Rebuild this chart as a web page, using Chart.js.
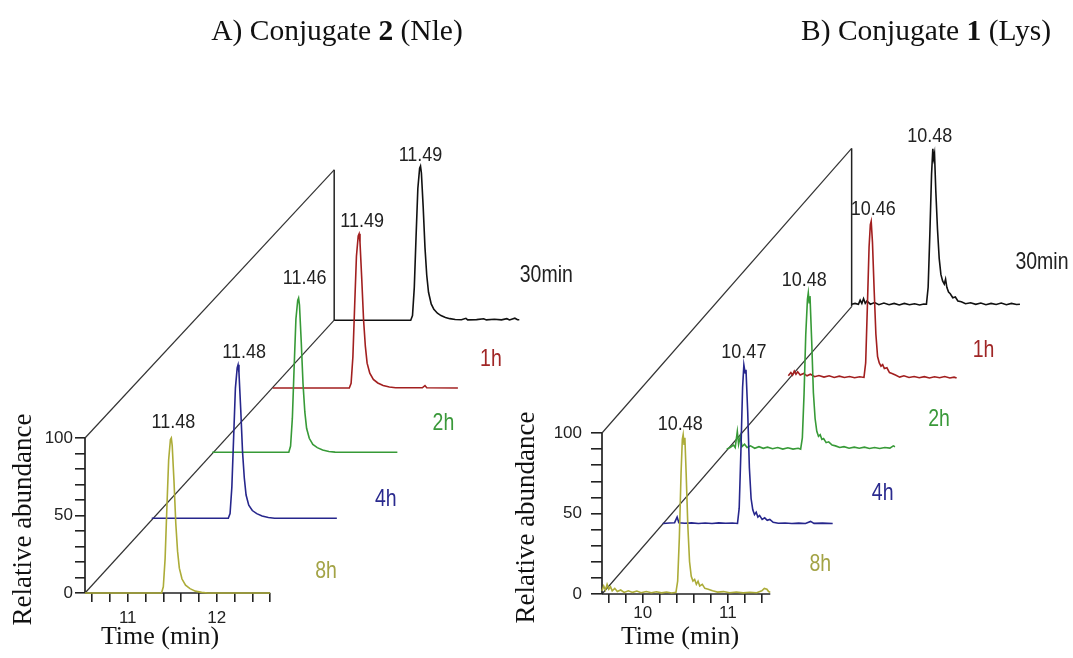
<!DOCTYPE html>
<html>
<head>
<meta charset="utf-8">
<script src="https://cdn.jsdelivr.net/npm/chart.js@4.4.1/dist/chart.umd.min.js"></script>
<style>
  body { margin: 0; background: #fff; }
  #wrap { position: relative; width: 1073px; height: 658px; overflow: hidden; background: #fff; }
  canvas { position: absolute; top: 0; }
  .title { position: absolute; top: 13px; line-height: 34px; font-family: "Liberation Serif", "Times New Roman", serif;
           font-size: 29.5px; color: #111; white-space: nowrap; transform: translateX(-50%); }
</style>
</head>
<body>
<div id="wrap">
  <canvas id="chartA" width="600" height="658" style="left:0"></canvas>
  <canvas id="chartB" width="573" height="658" style="left:500px"></canvas>
  <div class="title" style="left:337px">A) Conjugate <b>2</b> (Nle)</div>
  <div class="title" style="left:926px">B) Conjugate <b>1</b> (Lys)</div>
</div>
<script>
// sampling times, front to back
const seriesNames = ['8h', '4h', '2h', '1h', '30min'];
const peakLabelsA = ['11.48', '11.48', '11.46', '11.49', '11.49'];
const peakLabelsB = ['10.48', '10.47', '10.48', '10.46', '10.48'];

// how far each run is pushed back in the stack (min, abundance)
const shiftTimeA = [0, 0.75, 1.43, 2.11, 2.80];
const shiftAbundA = [0, 48.2, 90.8, 132.3, 176];
const shiftTimeB = [0, 0.714, 1.467, 2.192, 2.937];
const shiftAbundB = [0, 43.3, 89.0, 133.5, 178.5];

const xTicksA = [10.6, 10.8, 11, 11.2, 11.4, 11.6, 11.8, 12, 12.2, 12.4, 12.6];
const xTicksB = [9.6, 9.8, 10, 10.2, 10.4, 10.6, 10.8, 11, 11.2, 11.4];
const xLabelsA = [11, 12];
const xLabelsB = [10, 11];
const yTicks = [0, 10, 20, 30, 40, 50, 60, 70, 80, 90, 100];
const yLabels = [0, 50, 100];

// conjugate 2 (Nle) traces: [time, relative abundance]
const a8h = [[10.52,0],[11.38,0],[11.40,4],[11.42,22],[11.44,55],[11.46,86],[11.48,99],[11.49,100],[11.50,95],[11.52,72],
  [11.54,45],[11.56,27],[11.58,16],[11.61,9],[11.65,5],[11.70,2.8],[11.76,1.2],[11.83,0.4],[11.90,0],[12.60,0]];
const a4h = [[10.52,0],[11.38,0],[11.40,3],[11.42,20],[11.44,52],[11.46,84],[11.48,97],[11.49,99],[11.50,94],[11.52,70],
  [11.54,43],[11.56,26],[11.58,15],[11.61,8.5],[11.65,5],[11.70,3],[11.76,1.5],[11.83,0.5],[11.90,0],[12.60,0]];
const a2h = [[10.52,0],[11.38,0],[11.40,4],[11.42,22],[11.44,55],[11.46,86],[11.48,98],[11.49,99.5],[11.50,95],[11.52,71],
  [11.54,44],[11.56,26],[11.58,15.5],[11.61,9],[11.65,5],[11.70,3],[11.76,1.5],[11.83,0.5],[11.90,0.1],[12.60,0]];
const a1h = [[10.52,0],[11.38,0],[11.40,3],[11.42,20],[11.44,53],[11.46,85],[11.48,98],[11.49,99.4],[11.50,94],[11.52,70],
  [11.54,44],[11.56,27],[11.58,16],[11.61,9.5],[11.65,5.5],[11.70,3.2],[11.76,1.6],[11.83,0.6],[11.90,0.1],[12.20,0.1],
  [12.23,1.5],[12.25,0.1],[12.60,0]];
const a30m = [[10.52,0],[11.38,0],[11.40,3],[11.42,21],[11.44,54],[11.46,85],[11.48,98],[11.49,99.4],[11.50,95],[11.52,73],
  [11.54,47],[11.56,29],[11.58,18],[11.61,10.5],[11.64,7],[11.68,4.5],[11.72,3],[11.77,1.8],[11.82,1],[11.88,0.5],
  [11.95,0.3],[12.00,1.2],[12.02,0.2],[12.12,0.4],[12.20,0.9],[12.23,0.2],[12.32,0.6],[12.40,0.2],[12.46,1],[12.49,0.2],
  [12.55,1.3],[12.58,0.3],[12.60,0.3]];

// conjugate 1 (Lys) traces
const b8h = [[9.52,2],[9.54,5],[9.56,2.5],[9.58,6],[9.60,3],[9.62,4.5],[9.64,2],[9.67,3.5],[9.70,1.5],[9.74,2.5],[9.78,1],
  [9.83,2],[9.88,1],[9.93,1.8],[9.98,0.8],[10.04,1.5],[10.10,0.8],[10.16,1.4],[10.22,0.7],[10.28,1.2],[10.34,0.6],[10.39,1],
  [10.41,8],[10.43,35],[10.45,75],[10.465,96],[10.475,99],[10.485,93],[10.495,97],[10.51,75],[10.53,42],[10.55,20],[10.57,11],
  [10.59,8],[10.61,9],[10.63,6],[10.65,8],[10.67,5],[10.70,6],[10.73,3.5],[10.77,3],[10.82,2],[10.88,1.2],[10.95,1.5],
  [11.02,0.8],[11.10,1.2],[11.18,0.7],[11.26,1.1],[11.34,0.8],[11.40,2],[11.43,3.5],[11.46,3],[11.48,1.5],[11.50,1]];
const b4h = [[9.52,0.5],[9.60,0.8],[9.66,1],[9.69,4.5],[9.71,1],[9.78,0.6],[9.86,0.9],[9.94,0.5],[10.02,0.8],[10.10,0.5],
  [10.18,0.9],[10.26,0.6],[10.34,0.8],[10.40,0.5],[10.42,10],[10.44,45],[10.46,85],[10.475,99],[10.49,94],[10.50,96],
  [10.52,70],[10.54,35],[10.56,16],[10.58,9],[10.60,6],[10.62,7.5],[10.64,4.5],[10.66,5.5],[10.69,3],[10.72,4],[10.75,2.5],
  [10.78,3],[10.82,1.2],[10.88,0.6],[10.96,0.8],[11.04,0.5],[11.12,0.7],[11.20,0.5],[11.26,1.8],[11.30,0.6],[11.40,0.7],
  [11.52,0.5]];
const b2h = [[9.52,1],[9.56,2],[9.60,3.5],[9.62,2],[9.645,12],[9.66,4],[9.68,9],[9.70,2.5],[9.73,4],[9.76,2],[9.80,3],
  [9.85,1.5],[9.90,2.5],[9.95,1.5],[10.00,2.2],[10.06,1.2],[10.12,2],[10.18,1],[10.24,1.8],[10.30,1],[10.36,1.5],[10.39,1],
  [10.41,8],[10.43,35],[10.45,72],[10.47,94],[10.48,98],[10.49,92],[10.50,96],[10.52,68],[10.54,36],[10.56,20],[10.58,12],
  [10.60,9],[10.62,10],[10.64,7],[10.66,7.5],[10.69,5],[10.72,5.5],[10.76,3.5],[10.80,3],[10.85,2],[10.90,2.5],[10.96,1.5],
  [11.02,2.2],[11.08,1.5],[11.14,2.2],[11.20,1.4],[11.26,2],[11.32,1.4],[11.38,2],[11.44,1.6],[11.48,3],[11.50,2.5]];
const b1h = [[9.52,2],[9.55,4],[9.57,2.5],[9.59,5],[9.61,3],[9.63,4.5],[9.66,2.5],[9.70,3.5],[9.74,2],[9.78,3],[9.83,1.5],
  [9.88,2.2],[9.94,1.2],[10.00,2],[10.06,1],[10.12,1.8],[10.18,1],[10.24,1.6],[10.30,0.8],[10.36,1.4],[10.41,1],[10.43,10],
  [10.45,45],[10.47,82],[10.485,96],[10.495,98],[10.51,85],[10.53,55],[10.55,28],[10.57,14],[10.59,10],[10.61,8],[10.63,9],
  [10.65,6.5],[10.68,7],[10.71,4],[10.74,3.5],[10.78,2.5],[10.83,1.2],[10.88,2],[10.94,1],[11.00,1.6],[11.06,0.8],[11.12,1.5],
  [11.18,0.7],[11.24,1.4],[11.30,0.8],[11.36,1.6],[11.42,0.7],[11.47,1.2],[11.50,0.6]];
const b30m = [[9.52,1.5],[9.56,2],[9.60,1.5],[9.62,4],[9.64,2],[9.66,5],[9.68,2],[9.70,3.5],[9.74,1.5],[9.79,2.5],[9.84,1.2],
  [9.90,2.2],[9.96,1.2],[10.02,2],[10.08,1],[10.14,2],[10.20,1.2],[10.26,1.8],[10.32,1],[10.37,1.6],[10.40,1.5],[10.42,12],
  [10.44,45],[10.46,82],[10.475,98],[10.485,92],[10.495,95],[10.51,72],[10.53,48],[10.55,30],[10.57,20],[10.59,16],[10.61,14],
  [10.625,17],[10.64,12],[10.66,9],[10.68,8],[10.71,5.5],[10.74,6],[10.77,3.5],[10.81,3],[10.86,1.8],[10.92,2.4],[10.98,1.4],
  [11.04,2.2],[11.10,1.2],[11.16,2],[11.22,1.3],[11.28,2.2],[11.34,1.2],[11.40,2],[11.46,1.3],[11.50,1.5]];

const lineColors = ['#acac38', '#26268c', '#379a37', '#a21f1f', '#111111'];
const labelColors = ['#a3a345', '#2a2a8e', '#3a993a', '#a02626', '#222222'];
const sansFont = '"Liberation Sans", Arial, sans-serif';
const serifFont = '"Liberation Serif", "Times New Roman", serif';

function stretchedText(ctx, txt, x, y, sy) {
  ctx.save();
  ctx.translate(x, y);
  ctx.scale(1, sy);
  ctx.fillText(txt, 0, 0);
  ctx.restore();
}

function makePanel(id, p) {
  const canvas = document.getElementById(id);
  const W = canvas.width, H = canvas.height;
  const last = p.traces.length - 1;
  const xBack = p.xMin + p.dx[last], yBack = p.dy[last];

  const datasets = p.traces.map((tr, i) => ({
    label: seriesNames[i],
    data: tr.map(([t, v]) => ({ x: t + p.dx[i], y: v + p.dy[i] })),
    borderColor: lineColors[i],
    borderWidth: 1.6,
    pointRadius: 0,
    tension: 0,
    clip: false,
    order: i
  }));

  // front axis lines, the two diagonals and the back axis of the stack
  const frame = [
    { pts: [[p.xMin, 0], [p.xMin, 100]], w: 1.7, c: '#222' },
    { pts: [[p.xMin, 0], [p.xEnd, 0]], w: 1.7, c: '#222' },
    { pts: [[p.xMin, 0], [xBack, yBack]], w: 1.2, c: '#333' },
    { pts: [[p.xMin, 100], [xBack, yBack + p.backHeight]], w: 1.2, c: '#333' },
    { pts: [[xBack, yBack], [xBack, yBack + p.backHeight]], w: 1.5, c: '#222' }
  ];
  frame.forEach(f => datasets.push({
    data: f.pts.map(([x, y]) => ({ x, y })),
    borderColor: f.c, borderWidth: f.w, pointRadius: 0, clip: false, order: 10
  }));

  const textPlugin = {
    id: 'panelText',
    afterDatasetsDraw(chart) {
      const ctx = chart.ctx, xs = chart.scales.x, ys = chart.scales.y;
      ctx.save();
      ctx.textAlign = 'center';
      ctx.textBaseline = 'middle';
      p.traces.forEach((tr, i) => {
        // retention time label over the apex
        let top = tr[0];
        tr.forEach(pt => { if (pt[1] > top[1]) top = pt; });
        const px = xs.getPixelForValue(top[0] + p.dx[i]);
        const py = ys.getPixelForValue(top[1] + p.dy[i]);
        ctx.fillStyle = '#222';
        ctx.font = '18px ' + sansFont;
        stretchedText(ctx, p.peakLabels[i], px + p.peakOff[i][0], py + p.peakOff[i][1], 1.1);
        // time label to the right of each run
        const end = tr[tr.length - 1];
        const ex = xs.getPixelForValue(end[0] + p.dx[i]);
        const ey = ys.getPixelForValue(p.dy[i]);
        ctx.fillStyle = labelColors[i];
        ctx.font = '19.5px ' + sansFont;
        stretchedText(ctx, seriesNames[i], ex + p.nameOff[i][0], ey + p.nameOff[i][1], 1.2);
      });
      ctx.fillStyle = '#111';
      ctx.font = '26px ' + serifFont;
      ctx.fillText('Time (min)', chart.chartArea.left + p.xTitleDx, 637);
      ctx.save();
      ctx.translate(chart.chartArea.left - p.yTitleDx, ys.getPixelForValue(50) + 4);
      ctx.rotate(-Math.PI / 2);
      ctx.font = '27px ' + serifFont;
      ctx.fillText('Relative abundance', 0, 0);
      ctx.restore();
      ctx.restore();
    }
  };

  const isLabel = (list, v) => list.some(l => Math.abs(l - v) < 1e-6);

  new Chart(canvas, {
    type: 'line',
    data: { datasets },
    options: {
      responsive: false,
      animation: false,
      layout: { padding: { left: 0, top: p.box.top, right: W - p.box.right, bottom: 0 } },
      plugins: { legend: { display: false }, tooltip: { enabled: false }, title: { display: false } },
      scales: {
        x: {
          type: 'linear', min: p.xMin, max: p.xMax,
          afterFit: s => { s.height = H - p.box.bottom; },
          afterBuildTicks: s => { s.ticks = p.xTicks.map(v => ({ value: v })); },
          ticks: {
            autoSkip: false, maxRotation: 0, padding: p.xTickPad, color: '#222',
            font: { family: sansFont, size: 17 },
            callback: v => isLabel(p.xLabels, v) ? String(Math.round(v)) : ''
          },
          grid: { drawOnChartArea: false, tickLength: 9, color: '#222', lineWidth: 1.6 },
          border: { display: false }
        },
        y: {
          type: 'linear', min: 0, max: p.yMax,
          afterFit: s => { s.width = p.box.left; },
          afterBuildTicks: s => { s.ticks = yTicks.map(v => ({ value: v })); },
          ticks: {
            autoSkip: false, padding: p.yTickPad, color: '#222',
            font: { family: sansFont, size: 17 },
            callback: v => isLabel(yLabels, v) ? String(v) : ''
          },
          grid: { drawOnChartArea: false, tickLength: p.yTickLen, color: '#222', lineWidth: 1.6 },
          border: { display: false }
        }
      }
    },
    plugins: [textPlugin]
  });
}

makePanel('chartA', {
  traces: [a8h, a4h, a2h, a1h, a30m],
  dx: shiftTimeA, dy: shiftAbundA,
  peakLabels: peakLabelsA,
  xTicks: xTicksA, xLabels: xLabelsA,
  xMin: 10.52, xEnd: 12.6, xMax: 15.5, yMax: 320, backHeight: 97,
  box: { left: 85, right: 528.2, top: 97, bottom: 593 },
  xTickPad: 6, yTickPad: 2, yTickLen: 10,
  peakOff: [[2, -15], [6, -12], [6, -20], [3, -12], [0, -11]],
  nameOff: [[56, -21], [49, -19], [46, -29], [33, -28], [27, -45]],
  xTitleDx: 75, yTitleDx: 61
});

makePanel('chartB', {
  traces: [b8h, b4h, b2h, b1h, b30m],
  dx: shiftTimeB, dy: shiftAbundB,
  peakLabels: peakLabelsB,
  xTicks: xTicksB, xLabels: xLabelsB,
  xMin: 9.52, xEnd: 11.5, xMax: 15.0, yMax: 320, backHeight: 98.3,
  box: { left: 102, right: 567.8, top: 78.8, bottom: 594 },
  xTickPad: 0, yTickPad: 9, yTickLen: 11,
  peakOff: [[-3, -10], [0, -12], [-4, -12], [2, -12], [-3, -12]],
  nameOff: [[50, -29], [50, -31], [44, -31], [27, -29], [22, -44]],
  xTitleDx: 78, yTitleDx: 75
});
</script>
</body>
</html>
